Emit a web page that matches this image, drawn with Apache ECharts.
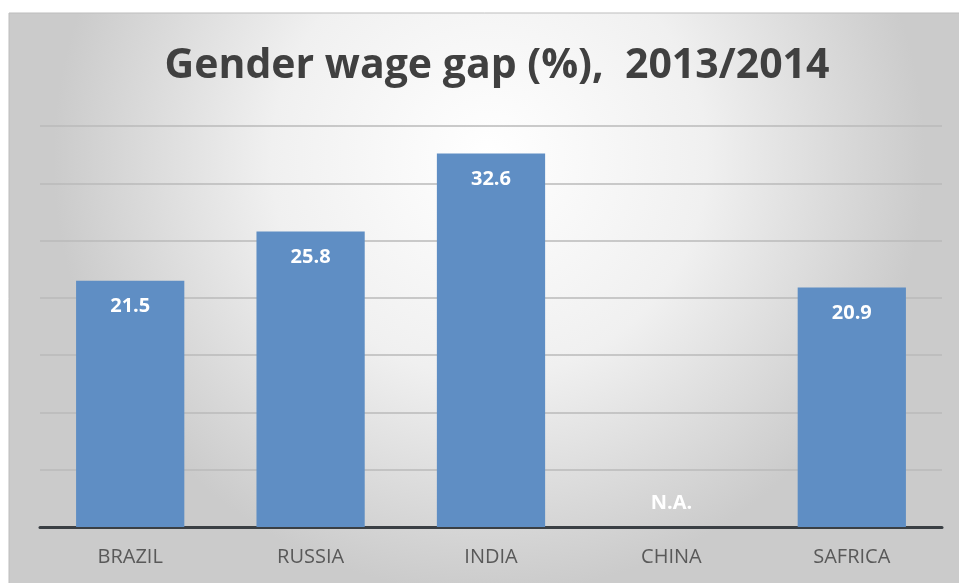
<!DOCTYPE html>
<html><head><meta charset="utf-8">
<script src="https://cdn.jsdelivr.net/npm/echarts@6/dist/echarts.min.js"></script>
<style>html,body{margin:0;padding:0;background:#fff}#c{width:959px;height:583px}</style>
</head><body><div id="c"></div>
<script>
var categories = ['BRAZIL', 'RUSSIA', 'INDIA', 'CHINA', 'SAFRICA'];
var values = [21.5, 25.8, 32.6, null, 20.9];
var naCategory = 'CHINA';
var titleText = 'Gender wage gap (%),  2013/2014';

var chart = echarts.init(document.getElementById('c'), null, {renderer: 'canvas'});
chart.setOption({
  animation: false,
  graphic: [{
    type: 'rect', z: -10, silent: true,
    shape: {x: 9, y: 13, width: 960, height: 580},
    style: {
      fill: new echarts.graphic.RadialGradient(0.5, 0.25, 0.75, [
        {offset: 0, color: '#ffffff'},
        {offset: 0.5, color: '#f0f0f0'},
        {offset: 1, color: '#cbcbcb'}
      ]),
      stroke: '#bdbdbd', lineWidth: 1
    }
  }],
  title: {
    text: titleText, left: 492, top: 41, textAlign: 'center',
    textStyle: {fontFamily: 'Open Sans', fontWeight: 'bold', fontSize: 41, color: '#404040'}
  },
  grid: {left: 40, right: 17, top: 126, bottom: 56},
  xAxis: {
    type: 'category', data: categories,
    axisLine: {lineStyle: {color: '#3a3f44', width: 3}},
    axisTick: {show: false},
    axisLabel: {color: '#595959', fontSize: 20, fontFamily: 'Open Sans', margin: 20}
  },
  yAxis: {
    type: 'value', min: 0, max: 35, interval: 5,
    axisLabel: {show: false}, axisLine: {show: false}, axisTick: {show: false},
    splitLine: {lineStyle: {color: '#bababa', width: 1.5}}
  },
  series: [{
    type: 'bar', data: values, barWidth: '60%',
    itemStyle: {color: '#5f8ec4'},
    label: {show: true, position: 'insideTop', distance: 16, color: '#ffffff',
      fontWeight: 'bold', fontSize: 20, fontFamily: 'Open Sans'},
    markPoint: {
      symbol: 'circle', symbolSize: 0,
      data: [{coord: [naCategory, 0]}],
      label: {show: true, formatter: 'N.A.', color: '#ffffff', fontWeight: 'bold',
        fontSize: 20, fontFamily: 'Open Sans', position: 'top', distance: 14}
    }
  }]
});
</script></body></html>
